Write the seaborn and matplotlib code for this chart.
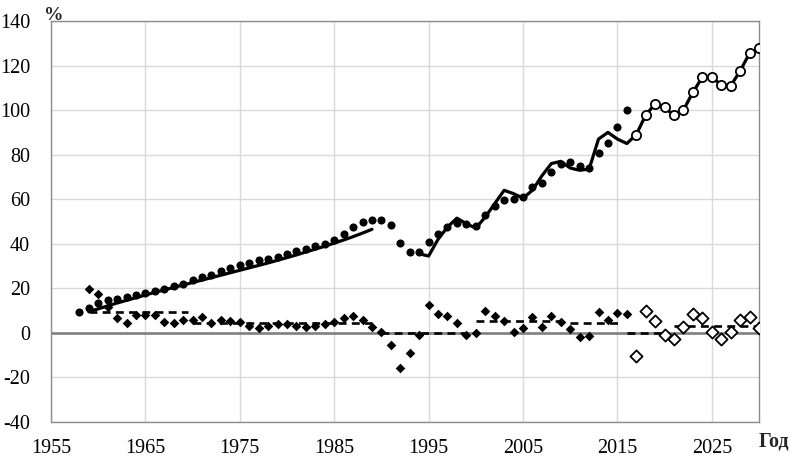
import numpy as np
import pandas as pd
import matplotlib
matplotlib.use("Agg")
import matplotlib.pyplot as plt
import seaborn as sns

# фактические значения (заполненные кружки), 1958-2016
years_fact = list(range(1958, 2017))
fact = [9.3, 11.3, 13.5, 14.7, 15.3, 16.2, 17.2, 18.0, 18.7, 19.9,
        21.0, 22.0, 23.7, 25.3, 26.2, 28.0, 29.2, 30.5, 31.5, 32.5,
        33.2, 34.1, 35.5, 36.7, 37.7, 38.9, 40.1, 41.9, 44.5, 47.4,
        49.8, 50.8, 50.8, 48.3, 40.4, 36.5, 36.2, 40.9, 44.3, 47.5,
        49.4, 49.0, 48.0, 52.8, 57.0, 59.8, 60.1, 61.0, 65.3, 67.5,
        72.0, 76.0, 76.7, 75.0, 74.0, 80.7, 85.3, 92.5, 100.0]

# прогноз (пустые кружки), 2017-2030
years_fc = list(range(2017, 2031))
forecast = [89.0, 97.8, 102.8, 101.2, 97.6, 100.1, 108.0, 114.8,
            114.8, 111.3, 110.9, 117.6, 125.5, 127.8]

# модельная кривая, первый участок 1959-1989
years_m1 = list(range(1959, 1990))
model1 = [9.5, 10.8, 12.1, 13.4, 14.6, 15.8, 17.0, 18.2, 19.3, 20.4,
          21.5, 22.6, 23.7, 24.8, 25.9, 27.0, 28.1, 29.2, 30.3, 31.4,
          32.6, 33.8, 35.0, 36.3, 37.6, 38.9, 40.3, 41.7, 43.2, 44.8,
          46.5]

# модельная кривая, второй участок 1994-2016 (дальше идёт по прогнозу)
years_m2 = list(range(1994, 2017))
model2 = [35.5, 34.5, 42.0, 47.5, 51.5, 49.0, 47.0, 52.0, 58.0, 64.0,
          62.5, 60.5, 64.0, 70.5, 76.0, 77.0, 74.0, 73.0, 73.5, 87.0,
          90.0, 87.0, 85.0]

# годовые приросты (ромбы)
years_inc = list(range(1959, 2017))
inc = [19.9, 17.4, 11.8, 6.8, 4.6, 7.9, 8.1, 8.0, 4.9, 4.6,
       5.7, 5.7, 7.2, 4.4, 6.0, 5.3, 5.0, 3.2, 2.2, 3.3,
       4.0, 4.2, 3.2, 2.6, 3.0, 3.8, 4.9, 6.8, 7.5, 5.7,
       2.8, 0.5, -5.5, -15.9, -8.9, -1.0, 12.3, 8.6, 7.5, 4.6,
       -1.0, -0.2, 9.8, 7.5, 5.3, 0.5, 2.2, 7.2, 2.8, 7.8,
       5.0, 1.6, -1.7, -1.5, 9.5, 5.6, 8.8, 8.3]
inc_fc = [-10.4, 9.8, 5.3, -1.0, -2.9, 2.8, 8.6, 6.5, 0.5, -2.9,
          0.5, 6.0, 7.2, 2.3]

# средние приросты по периодам (пунктир)
seg_start = [1959, 1970, 1990, 2000, 2010, 2016, 2021]
seg_end = [1969.5, 1989, 1999, 2009.5, 2015.5, 2020.5, 2030]
seg_level = [9.3, 4.5, 0.0, 5.3, 4.3, 0.0, 3.0]

sns.set_theme(style="white")
plt.rcParams['font.family'] = ['Liberation Serif', 'DejaVu Serif']
plt.rcParams['axes.unicode_minus'] = False

fig = plt.figure(figsize=(7.91, 4.66), dpi=100)
ax = fig.add_axes([51 / 791, 1 - 422 / 466, 708 / 791, 401 / 466])

ax.axhline(0, color='#808080', lw=1.9, zorder=1)

line2 = pd.DataFrame({'year': years_m2 + years_fc, 'val': model2 + forecast})
sns.lineplot(x=years_m1, y=model1, color='black', lw=2.3, ax=ax, zorder=2)
sns.lineplot(data=line2, x='year', y='val', color='black', lw=2.3, ax=ax, zorder=2)

ax.hlines(seg_level, seg_start, seg_end, colors='black', lw=1.9,
          linestyles=(0, (3, 2)), zorder=2)

sns.scatterplot(x=years_fact, y=fact, marker='o', s=34, color='black',
                linewidth=0, ax=ax, zorder=3)
sns.scatterplot(x=years_fc, y=forecast, marker='o', s=44, facecolor='white',
                edgecolor='black', linewidth=1.3, ax=ax, zorder=3)
sns.scatterplot(x=years_inc, y=inc, marker='D', s=24, color='black',
                linewidth=0, ax=ax, zorder=3)
sns.scatterplot(x=years_fc, y=inc_fc, marker='D', s=38, facecolor='white',
                edgecolor='black', linewidth=1.3, ax=ax, zorder=3)

ax.set_xlim(1955, 2030)
ax.set_ylim(-40, 140)
ax.set_xticks(np.arange(1955, 2030, 10))
ax.set_yticks(np.arange(-40, 141, 20))
ax.grid(True, color='#d9d9d9', lw=1)
ax.set_axisbelow(True)
for sp in ax.spines.values():
    sp.set_color('#8c8c8c')
    sp.set_linewidth(1)
ax.tick_params(axis='both', labelsize=14.5, colors='#bfbfbf', labelcolor='black',
               length=5, width=1, direction='out')
ax.tick_params(axis='y', pad=10)
ax.tick_params(axis='x', pad=7)
ax.set_xlabel('')
ax.set_ylabel('')

fig.text(44 / 791, 1 - 24 / 466, '%', fontsize=14, fontweight='bold', va='bottom')
fig.text(789 / 791, 1 - 452 / 466, 'Год', fontsize=14.5, fontweight='bold',
         ha='right', va='bottom')

fig.savefig('out.png', dpi=100)
